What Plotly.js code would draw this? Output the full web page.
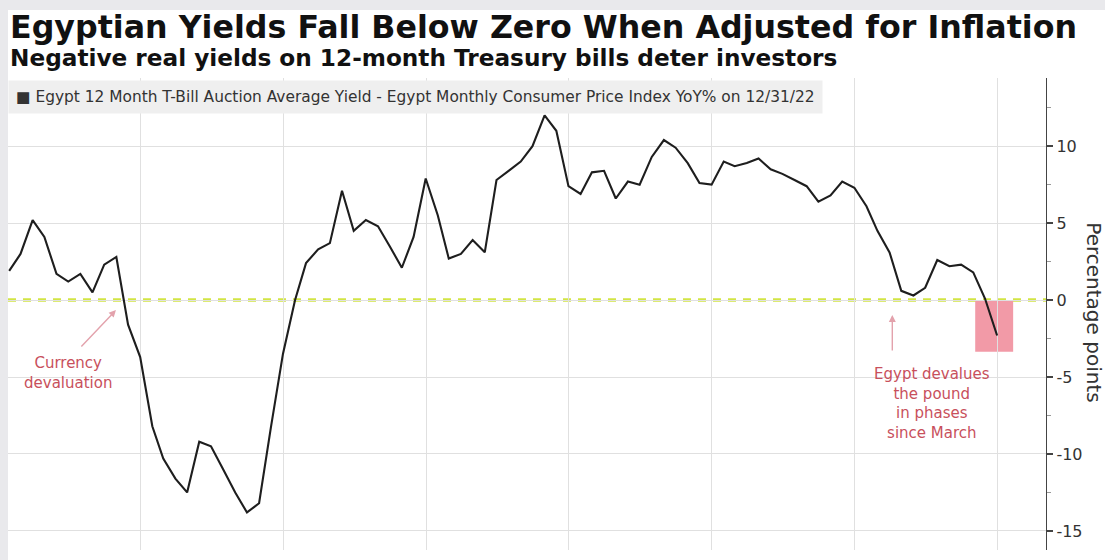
<!DOCTYPE html>
<html>
<head>
<meta charset="utf-8">
<script src="https://cdn.plot.ly/plotly-3.0.1.min.js"></script>
<style>
  html, body { margin: 0; padding: 0; background: #e9e9ec; width: 1105px; height: 560px; overflow: hidden; }
  #chart { position: absolute; left: 8px; top: 10px; width: 1097px; height: 550px; background: #fff; }
</style>
</head>
<body>
<div id="chart"></div>
<script>
// Month-end observation dates
const dates = [
  '2016-01-31','2016-02-29','2016-03-31','2016-04-30','2016-05-31','2016-06-30','2016-07-31','2016-08-31','2016-09-30','2016-10-31','2016-11-30','2016-12-31',
  '2017-01-31','2017-02-28','2017-03-31','2017-04-30','2017-05-31','2017-06-30','2017-07-31','2017-08-31','2017-09-30','2017-10-31','2017-11-30','2017-12-31',
  '2018-01-31','2018-02-28','2018-03-31','2018-04-30','2018-05-31','2018-06-30','2018-07-31','2018-08-31','2018-09-30','2018-10-31','2018-11-30','2018-12-31',
  '2019-01-31','2019-02-28','2019-03-31','2019-04-30','2019-05-31','2019-06-30','2019-07-31','2019-08-31','2019-09-30','2019-10-31','2019-11-30','2019-12-31',
  '2020-01-31','2020-02-29','2020-03-31','2020-04-30','2020-05-31','2020-06-30','2020-07-31','2020-08-31','2020-09-30','2020-10-31','2020-11-30','2020-12-31',
  '2021-01-31','2021-02-28','2021-03-31','2021-04-30','2021-05-31','2021-06-30','2021-07-31','2021-08-31','2021-09-30','2021-10-31','2021-11-30','2021-12-31',
  '2022-01-31','2022-02-28','2022-03-31','2022-04-30','2022-05-31','2022-06-30','2022-07-31','2022-08-31','2022-09-30','2022-10-31','2022-11-30','2022-12-31'
];
// 12M T-bill yield minus CPI YoY, percentage points
const realYield = [
  1.9, 3.0, 5.2, 4.1, 1.7, 1.2, 1.7, 0.5, 2.3, 2.8, -1.6, -3.7,
  -8.2, -10.3, -11.6, -12.5, -9.2, -9.5, -11.0, -12.5, -13.8, -13.2, -8.3, -3.5,
  0.0, 2.4, 3.3, 3.7, 7.1, 4.5, 5.2, 4.8, 3.5, 2.1, 4.1, 7.9,
  5.5, 2.7, 3.0, 3.9, 3.1, 7.8, 8.4, 9.0, 10.0, 12.0, 11.0, 7.4,
  6.9, 8.3, 8.4, 6.6, 7.7, 7.5, 9.3, 10.4, 9.9, 8.9, 7.6, 7.5,
  9.0, 8.7, 8.9, 9.2, 8.5, 8.2, 7.8, 7.4, 6.4, 6.8, 7.7, 7.3,
  6.1, 4.5, 3.1, 0.6, 0.3, 0.8, 2.6, 2.2, 2.3, 1.8, 0.1, -2.3
];
const tickVals = [-15, -10, -5, 0, 5, 10];
const tickLabels = ['-15', '-10', '-5', '0', '5', '10'];

const titleText = 'Egyptian Yields Fall Below Zero When Adjusted for Inflation';
const subtitleText = 'Negative real yields on 12-month Treasury bills deter investors';
const legendText = '\u25A0 Egypt 12 Month T-Bill Auction Average Yield - Egypt Monthly Consumer Price Index YoY% on 12/31/22';
const note1 = 'Currency<br>devaluation';
const note2 = 'Egypt devalues<br>the pound<br>in phases<br>since March';
const yTitle = 'Percentage points';

const FONT = 'DejaVu Sans, Verdana, sans-serif';
const RED = '#c8505c';
const PINK_ARROW = '#e3a2ac';

const trace = {
  x: dates, y: realYield, type: 'scatter', mode: 'lines',
  line: { color: '#1e1e1e', width: 2.1 }, hoverinfo: 'skip', showlegend: false
};

const layout = {
  width: 1097, height: 550,
  margin: { l: 0, r: 59, t: 68, b: 10, pad: 0 },
  paper_bgcolor: '#ffffff', plot_bgcolor: '#ffffff',
  font: { family: FONT, color: '#333' },
  showlegend: false,
  xaxis: {
    type: 'date', range: ['2016-01-28', '2023-05-05'],
    tick0: '2017-01-01', dtick: 'M12', showticklabels: false, ticks: '',
    showgrid: true, gridcolor: '#e0e0e0', gridwidth: 1, zeroline: false, showline: false, fixedrange: true
  },
  yaxis: {
    side: 'right', range: [-16.24, 14.43],
    tickvals: tickVals, ticktext: tickLabels,
    tickfont: { family: FONT, size: 16, color: '#333' },
    ticks: 'outside', ticklen: 6, tickwidth: 1.5, tickcolor: '#444',
    minor: { dtick: 2.5, tick0: 0, ticks: 'outside', ticklen: 4, tickcolor: '#999', showgrid: false },
    showline: true, linecolor: '#444', linewidth: 1.2,
    showgrid: true, gridcolor: '#e0e0e0', gridwidth: 1, zeroline: false, fixedrange: true
  },
  shapes: [
    { type: 'rect', xref: 'x', yref: 'y', x0: '2022-11-05', x1: '2023-02-10', y0: 0, y1: -3.35,
      fillcolor: '#f29aa7', line: { width: 0 }, layer: 'below' },
    { type: 'line', xref: 'paper', yref: 'y', x0: 0, x1: 1, y0: 0, y1: 0,
      line: { color: '#d2e544', width: 3.5, dash: '8px,7px' }, layer: 'below' }
  ],
  annotations: [
    { text: '<b>' + titleText + '</b>', xref: 'paper', yref: 'paper', x: 0, y: 1.108,
      xanchor: 'left', yanchor: 'middle', showarrow: false, font: { family: FONT, size: 31.7, color: '#111' } },
    { text: '<b>' + subtitleText + '</b>', xref: 'paper', yref: 'paper', x: 0, y: 1.044,
      xanchor: 'left', yanchor: 'middle', showarrow: false, font: { family: FONT, size: 23.2, color: '#111' } },
    { text: legendText, xref: 'paper', yref: 'paper', x: 0, y: 0.9597,
      xanchor: 'left', yanchor: 'middle', showarrow: false, bgcolor: '#efefef', borderpad: 7,
      font: { family: FONT, size: 15.4, color: '#333' } },
    { text: note1, xref: 'x', yref: 'y', x: '2016-06-29', y: -4.73, xanchor: 'center', yanchor: 'middle',
      showarrow: false, font: { family: FONT, size: 15, color: RED } },
    { text: note2, xref: 'x', yref: 'y', x: '2022-07-18', y: -6.7, xanchor: 'center', yanchor: 'middle',
      showarrow: false, font: { family: FONT, size: 15, color: RED } },
    { text: '', xref: 'x', yref: 'y', x: '2016-10-30', y: -0.65, showarrow: true, ax: -36, ay: 38,
      arrowcolor: PINK_ARROW, arrowwidth: 1.4, arrowhead: 2, arrowsize: 1 },
    { text: '', xref: 'x', yref: 'y', x: '2022-04-07', y: -0.97, showarrow: true, ax: 0, ay: 37,
      arrowcolor: PINK_ARROW, arrowwidth: 1.4, arrowhead: 2, arrowsize: 1 },
    { text: yTitle, xref: 'paper', yref: 'paper', x: 1.046, y: 0.504, xanchor: 'center', yanchor: 'middle',
      textangle: 90, showarrow: false, font: { family: FONT, size: 20, color: '#333' } }
  ]
};

Plotly.newPlot('chart', [trace], layout, { staticPlot: true, displayModeBar: false });
</script>
</body>
</html>
